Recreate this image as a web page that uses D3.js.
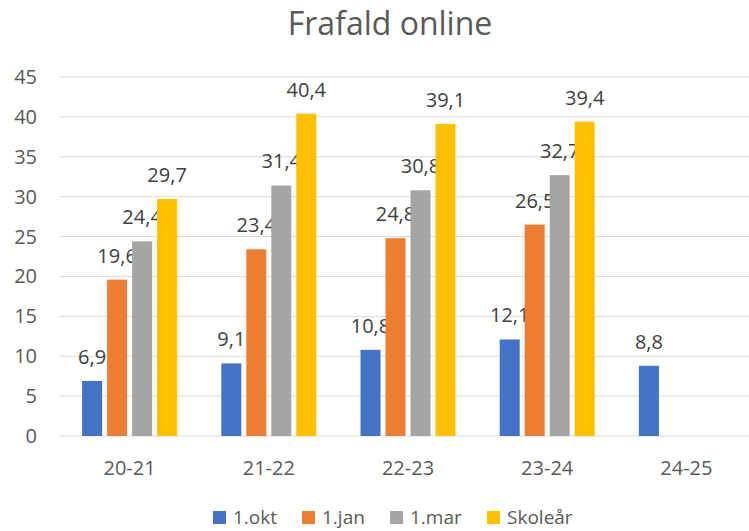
<!DOCTYPE html>
<html>
<head>
<meta charset="utf-8">
<script src="https://cdn.jsdelivr.net/npm/d3@7"></script>
<style>
  body { margin: 0; background: #fff; }
  text { font-family: "Open Sans", sans-serif; }
</style>
</head>
<body>
<div id="chart"></div>
<script>
const categories = ["20-21", "21-22", "22-23", "23-24", "24-25"];
const seriesNames = ["1.okt", "1.jan", "1.mar", "Skoleår"];
const okt = [6.9, 9.1, 10.8, 12.1, 8.8];
const jan = [19.6, 23.4, 24.8, 26.5, null];
const mar = [24.4, 31.4, 30.8, 32.7, null];
const skolear = [29.7, 40.4, 39.1, 39.4, null];
const yTicks = [0, 5, 10, 15, 20, 25, 30, 35, 40, 45];
const colors = ["#4472C4", "#ED7D31", "#A5A5A5", "#FFC000"];

const width = 749, height = 531;
const allSeries = [okt, jan, mar, skolear];

const svg = d3.select("#chart").append("svg")
    .attr("width", width)
    .attr("height", height);

const x = d3.scaleBand()
    .domain(categories)
    .range([60, 756]);

const inner = d3.scaleBand()
    .domain(seriesNames)
    .range([-47.5, 47.5])
    .paddingInner(0.2);

const y = d3.scaleLinear()
    .domain([0, 45])
    .range([436, 77]);

// title
svg.append("text")
    .attr("x", 390)
    .attr("y", 35)
    .attr("text-anchor", "middle")
    .attr("fill", "#595959")
    .attr("font-size", 32)
    .text("Frafald online");

// gridlines
svg.append("g")
    .selectAll("line")
    .data(yTicks)
    .enter().append("line")
    .attr("x1", 60)
    .attr("x2", width)
    .attr("y1", d => y(d))
    .attr("y2", d => y(d))
    .attr("stroke", "#D9D9D9")
    .attr("stroke-width", 1);

// y tick labels
svg.append("g")
    .selectAll("text")
    .data(yTicks)
    .enter().append("text")
    .attr("x", 37)
    .attr("y", d => y(d) + 7)
    .attr("text-anchor", "end")
    .attr("fill", "#595959")
    .attr("font-size", 20)
    .text(d => d);

// x labels
svg.append("g")
    .selectAll("text")
    .data(categories)
    .enter().append("text")
    .attr("x", d => x(d) + x.bandwidth() / 2)
    .attr("y", 475)
    .attr("text-anchor", "middle")
    .attr("fill", "#595959")
    .attr("font-size", 20)
    .text(d => d);

// bars
const fmt = v => d3.format(".1f")(v).replace(".", ",");

seriesNames.forEach(function(name, si){
    const pts = categories.map((c, i) => ({cat: c, v: allSeries[si][i]}))
        .filter(d => d.v !== null);

    const g = svg.append("g");

    g.selectAll("rect")
        .data(pts)
        .enter().append("rect")
        .attr("x", d => x(d.cat) + x.bandwidth() / 2 + inner(name))
        .attr("y", d => y(d.v))
        .attr("width", inner.bandwidth())
        .attr("height", d => y(0) - y(d.v))
        .attr("fill", colors[si]);

    g.selectAll("text")
        .data(pts)
        .enter().append("text")
        .attr("x", d => x(d.cat) + x.bandwidth() / 2 + inner(name) + inner.bandwidth() / 2)
        .attr("y", d => y(d.v) - 17)
        .attr("text-anchor", "middle")
        .attr("fill", "#404040")
        .attr("font-size", 20)
        .text(d => fmt(d.v));
});

// legend
const legendX = [213, 302, 390, 487];
const legend = svg.append("g")
    .selectAll("g")
    .data(seriesNames)
    .enter().append("g")
    .attr("transform", (d, i) => "translate(" + legendX[i] + ",511)");

legend.append("rect")
    .attr("width", 13)
    .attr("height", 13)
    .attr("fill", (d, i) => colors[i]);

legend.append("text")
    .attr("x", 20)
    .attr("y", 13)
    .attr("fill", "#595959")
    .attr("font-size", 19)
    .text(d => d);
</script>
</body>
</html>
